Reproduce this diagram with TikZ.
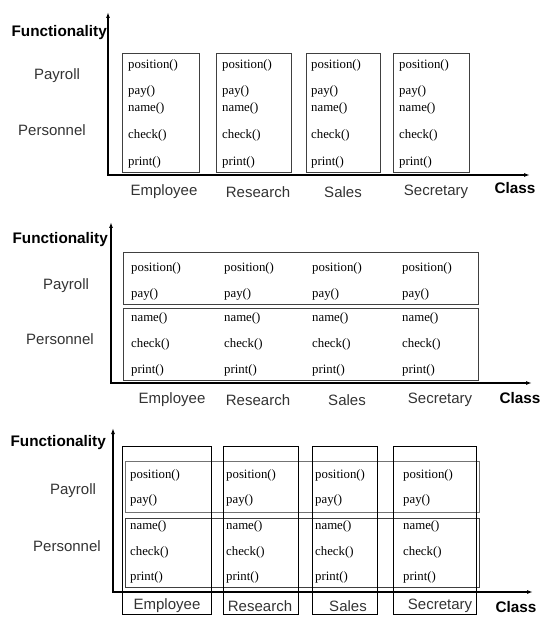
\documentclass[tikz,border=0pt]{standalone}
\usepackage{fontspec}
\setmainfont{Liberation Serif}
\setsansfont{Liberation Sans}
\usepackage{tikz}
\usetikzlibrary{arrows.meta}

\newcommand{\methfont}{\rmfamily\fontsize{12.8}{15}\selectfont}
\newcommand{\labfont}{\sffamily\fontsize{15}{18}\selectfont}
\newcommand{\axfont}{\sffamily\bfseries\fontsize{15.3}{18}\selectfont}

\begin{document}
\begin{tikzpicture}[x=1pt,y=1pt]
              \tikzstyle{every node}+=[inner sep=0pt]
              \tikzstyle{meth}=[font=\methfont, anchor=west]
              \tikzstyle{lab}=[font=\labfont, text=black!80]
              \tikzstyle{axname}=[font=\axfont]
              \tikzstyle{axis}=[line width=1.3pt, {Latex[length=6pt,width=4pt]}-{Latex[length=6pt,width=4pt]}]
              \tikzstyle{rowbox}=[line width=0.9pt, black!75]
              \tikzstyle{colbox}=[line width=1pt, black]
              \useasboundingbox (0,0) rectangle (543,-617);
              % first view: one box per class
              \draw [rowbox] (122,-53) rectangle (199,-172);
              \draw [rowbox] (216,-53) rectangle (291,-172);
              \draw [rowbox] (306,-53) rectangle (380,-172);
              \draw [rowbox] (393,-53) rectangle (469,-172);
              \coordinate (top1) at (108,-12);
              \coordinate (orig1) at (108,-175);
              \coordinate (end1) at (530,-175);
              \draw [axis] (top1) -- (orig1) -- (end1);
              \node [axname, anchor=east] (func1) at (107,-33) {Functionality};
              \node [axname] (class1) at (515,-188) {Class};
              \node [lab] (payroll1) at (57,-76) {Payroll};
              \node [lab] (personnel1) at (52,-130) {Personnel};
              \node [meth] (pos1a) at (128,-65) {position()};
              \node [meth] (pay1a) at (128,-91) {pay()};
              \node [meth] (name1a) at (128,-108) {name()};
              \node [meth] (check1a) at (128,-135) {check()};
              \node [meth] (print1a) at (128,-162) {print()};
              \node [meth] (pos1b) at (222,-65) {position()};
              \node [meth] (pay1b) at (222,-91) {pay()};
              \node [meth] (name1b) at (222,-108) {name()};
              \node [meth] (check1b) at (222,-135) {check()};
              \node [meth] (print1b) at (222,-162) {print()};
              \node [meth] (pos1c) at (311,-65) {position()};
              \node [meth] (pay1c) at (311,-91) {pay()};
              \node [meth] (name1c) at (311,-108) {name()};
              \node [meth] (check1c) at (311,-135) {check()};
              \node [meth] (print1c) at (311,-162) {print()};
              \node [meth] (pos1d) at (399,-65) {position()};
              \node [meth] (pay1d) at (399,-91) {pay()};
              \node [meth] (name1d) at (399,-108) {name()};
              \node [meth] (check1d) at (399,-135) {check()};
              \node [meth] (print1d) at (399,-162) {print()};
              \node [lab] (emp1) at (164,-192) {Employee};
              \node [lab] (res1) at (258,-192) {Research};
              \node [lab] (sal1) at (343,-192) {Sales};
              \node [lab] (sec1) at (436,-192) {Secretary};
              % second view: one box per functionality
              \draw [rowbox] (123,-252) rectangle (478,-304);
              \draw [rowbox] (123,-308) rectangle (478,-380);
              \coordinate (top2) at (111,-222);
              \coordinate (orig2) at (111,-383);
              \coordinate (end2) at (532,-383);
              \draw [axis] (top2) -- (orig2) -- (end2);
              \node [axname, anchor=east] (func2) at (108,-240) {Functionality};
              \node [axname] (class2) at (520,-398) {Class};
              \node [lab] (payroll2) at (66,-286) {Payroll};
              \node [lab] (personnel2) at (60,-339) {Personnel};
              \node [meth] (pos2a) at (131,-268) {position()};
              \node [meth] (pay2a) at (131,-294) {pay()};
              \node [meth] (name2a) at (131,-318) {name()};
              \node [meth] (check2a) at (131,-344) {check()};
              \node [meth] (print2a) at (131,-370) {print()};
              \node [meth] (pos2b) at (224,-268) {position()};
              \node [meth] (pay2b) at (224,-294) {pay()};
              \node [meth] (name2b) at (224,-318) {name()};
              \node [meth] (check2b) at (224,-344) {check()};
              \node [meth] (print2b) at (224,-370) {print()};
              \node [meth] (pos2c) at (312,-268) {position()};
              \node [meth] (pay2c) at (312,-294) {pay()};
              \node [meth] (name2c) at (312,-318) {name()};
              \node [meth] (check2c) at (312,-344) {check()};
              \node [meth] (print2c) at (312,-370) {print()};
              \node [meth] (pos2d) at (402,-268) {position()};
              \node [meth] (pay2d) at (402,-294) {pay()};
              \node [meth] (name2d) at (402,-318) {name()};
              \node [meth] (check2d) at (402,-344) {check()};
              \node [meth] (print2d) at (402,-370) {print()};
              \node [lab] (emp2) at (172,-400) {Employee};
              \node [lab] (res2) at (258,-400) {Research};
              \node [lab] (sal2) at (347,-400) {Sales};
              \node [lab] (sec2) at (440,-400) {Secretary};
              % third view: both at once
              \draw [rowbox, black!55] (125,-461) rectangle (479,-512);
              \draw [rowbox] (125,-518) rectangle (479,-587);
              \draw [colbox] (122,-446) rectangle (211,-614);
              \draw [colbox] (223,-446) rectangle (298,-614);
              \draw [colbox] (312,-446) rectangle (377,-614);
              \draw [colbox] (393,-446) rectangle (476,-614);
              \coordinate (top3) at (113,-428);
              \coordinate (orig3) at (113,-592);
              \coordinate (end3) at (533,-592);
              \draw [axis] (top3) -- (orig3) -- (end3);
              \node [axname, anchor=east] (func3) at (106,-443) {Functionality};
              \node [axname] (class3) at (516,-607) {Class};
              \node [lab] (payroll3) at (73,-491) {Payroll};
              \node [lab] (personnel3) at (67,-546) {Personnel};
              \node [meth] (pos3a) at (130,-475) {position()};
              \node [meth] (pay3a) at (130,-500) {pay()};
              \node [meth] (name3a) at (130,-526) {name()};
              \node [meth] (check3a) at (130,-552) {check()};
              \node [meth] (print3a) at (130,-577) {print()};
              \node [meth] (pos3b) at (226,-475) {position()};
              \node [meth] (pay3b) at (226,-500) {pay()};
              \node [meth] (name3b) at (226,-526) {name()};
              \node [meth] (check3b) at (226,-552) {check()};
              \node [meth] (print3b) at (226,-577) {print()};
              \node [meth] (pos3c) at (315,-475) {position()};
              \node [meth] (pay3c) at (315,-500) {pay()};
              \node [meth] (name3c) at (315,-526) {name()};
              \node [meth] (check3c) at (315,-552) {check()};
              \node [meth] (print3c) at (315,-577) {print()};
              \node [meth] (pos3d) at (403,-475) {position()};
              \node [meth] (pay3d) at (403,-500) {pay()};
              \node [meth] (name3d) at (403,-526) {name()};
              \node [meth] (check3d) at (403,-552) {check()};
              \node [meth] (print3d) at (403,-577) {print()};
              \node [lab] (emp3) at (167,-606) {Employee};
              \node [lab] (res3) at (260,-606) {Research};
              \node [lab] (sal3) at (348,-606) {Sales};
              \node [lab] (sec3) at (440,-606) {Secretary};
            \end{tikzpicture}
\end{document}
